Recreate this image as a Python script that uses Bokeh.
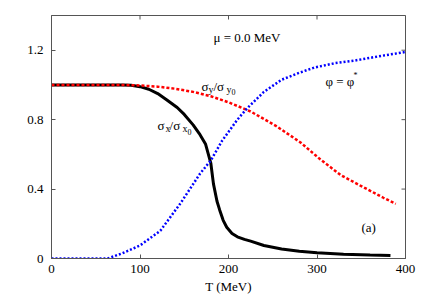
import math
from bokeh.plotting import figure
from bokeh.models import Range1d, FixedTicker
from bokeh.embed import file_html
from bokeh.resources import INLINE
from bokeh.core.properties import value

# ---- data ----
T_sx = [0, 20, 40, 60, 80, 90, 100, 110, 120, 130, 142, 150, 160, 167, 174, 180, 183, 187, 190,
        194, 198, 204, 210, 218, 225, 240, 260, 280, 300, 330, 360, 383]
sigma_x = [1.0, 1.0, 1.0, 1.0, 1.0, 0.998, 0.99, 0.975, 0.95, 0.915, 0.87, 0.83, 0.77, 0.72, 0.66,
           0.55, 0.43, 0.33, 0.28, 0.22, 0.18, 0.144, 0.125, 0.11, 0.10, 0.075, 0.055, 0.042,
           0.033, 0.025, 0.02, 0.017]

T_sy = [0, 20, 40, 60, 80, 100, 120, 140, 160, 180, 200, 225, 253, 281, 304, 327, 349, 375, 389]
sigma_y = [1.0, 1.0, 1.0, 1.0, 1.0, 0.997, 0.99, 0.978, 0.96, 0.935, 0.90, 0.847, 0.766, 0.67,
           0.57, 0.48, 0.42, 0.35, 0.315]

T_phi = [0, 20, 40, 60, 65, 80, 100, 123, 146, 168, 180, 193, 210, 221, 240, 260, 280, 297, 320,
         342, 370, 400]
phi = [0, 0, 0, 0, 0.003, 0.03, 0.075, 0.16, 0.32, 0.49, 0.565, 0.68, 0.80, 0.865, 0.96, 1.03,
       1.07, 1.10, 1.125, 1.14, 1.165, 1.19]

x_ticks = [0, 100, 200, 300, 400]
y_ticks = [0, 0.4, 0.8, 1.2]
y_tick_labels = {0: "0", 0.4: "0.4", 0.8: "0.8", 1.2: "1.2"}

X_MAX = 400
Y_MAX = 1.4

FONT = "Liberation Serif"
AX = "#555555"

p = figure(width=428, height=300, x_range=Range1d(0, X_MAX), y_range=Range1d(0, Y_MAX),
           output_backend="svg", toolbar_location=None,
           min_border_left=51, min_border_right=23, min_border_top=15, min_border_bottom=42)
p.grid.visible = False
p.outline_line_color = AX
p.outline_line_width = 1

for ax in (p.xaxis[0], p.yaxis[0]):
    ax.major_tick_in = 4
    ax.major_tick_out = 0
    ax.minor_tick_in = 0
    ax.minor_tick_out = 0
    ax.axis_line_color = AX
    ax.major_tick_line_color = AX
    ax.major_label_text_font = FONT
    ax.major_label_text_font_size = "13px"
    ax.major_label_text_color = "black"
p.xaxis.ticker = FixedTicker(ticks=x_ticks)
p.yaxis.ticker = FixedTicker(ticks=y_ticks)
p.yaxis.major_label_overrides = y_tick_labels
p.xaxis.major_label_standoff = 6
p.yaxis.major_label_standoff = 8

p.xaxis.axis_label = "T (MeV)"
p.xaxis.axis_label_text_font = FONT
p.xaxis.axis_label_text_font_size = "13px"
p.xaxis.axis_label_text_font_style = "normal"
p.xaxis.axis_label_text_color = "black"
p.xaxis.axis_label_standoff = 3

# mirrored inward ticks on top and right edges (half of each dash is clipped by the frame)
p.scatter(x=x_ticks, y=[Y_MAX] * len(x_ticks), marker="dash", size=8, angle=math.pi / 2,
          line_color=AX, line_width=1)
p.scatter(x=[X_MAX] * len(y_ticks), y=y_ticks, marker="dash", size=8,
          line_color=AX, line_width=1)

p.line(T_sx, sigma_x, line_color="black", line_width=3)
p.line(T_sy, sigma_y, line_color="#ff0000", line_width=2.5, line_dash="3 2")
p.line(T_phi, phi, line_color="#0000ff", line_width=2.5, line_dash="2 2")


def piece(x, y, txt, size, dx, dy):
    p.text(x=[x], y=[y], text=[txt], x_offset=dx, y_offset=dy,
           text_font=value(FONT), text_font_size=size, text_color="black",
           text_baseline="alphabetic", text_align="left")


# sigma_x / sigma_x0
sx, sy = 119.8, 0.766
piece(sx, sy, "σ", "13px", 0, 0)
piece(sx, sy, "x", "10px", 8, 3)
piece(sx, sy, "/σ", "13px", 12, 0)
piece(sx, sy, "x", "10px", 25, 3)
piece(sx, sy, "0", "8px", 30, 6)

# sigma_y / sigma_y0
yx, yy = 169.5, 0.991
piece(yx, yy, "σ", "13px", 0, 0)
piece(yx, yy, "y", "10px", 7, 3)
piece(yx, yy, "/σ", "13px", 12, 0)
piece(yx, yy, "y", "10px", 25, 3)
piece(yx, yy, "0", "8px", 30, 6)

# phi = phi*
piece(309.6, 1.02, "φ = φ", "13px", 0, 0)
piece(309.6, 1.02, "*", "8px", 28, -6)

# mu label
piece(183.0, 1.273, "μ = 0.0 MeV", "13px", 0, 0)

# (a)
piece(350.3, 0.179, "(a)", "13px", 0, 0)

open("out.html", "w").write(file_html(p, INLINE))
